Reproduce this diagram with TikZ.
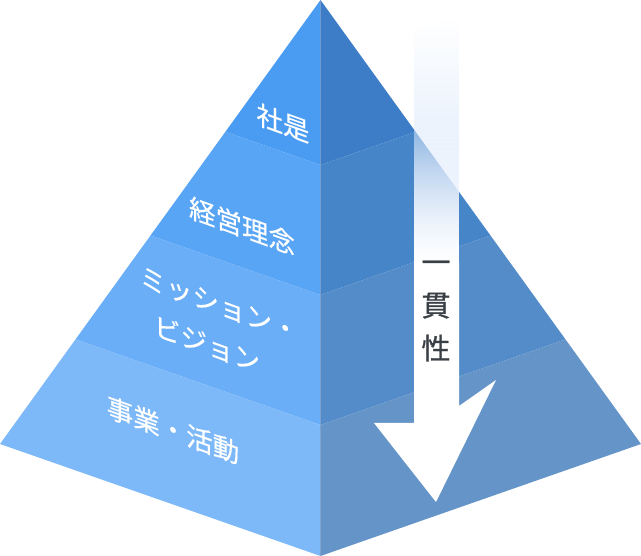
\documentclass[tikz,border=0pt]{standalone}
\usepackage{fontspec}
\newfontfamily\jp[FakeBold=0.5]{Noto Sans CJK JP}
\newfontfamily\jpv[FakeBold=0.9]{Noto Sans CJK JP}
\usetikzlibrary{fadings}
\definecolor{lbA}{HTML}{4A9BF2}
\definecolor{lbB}{HTML}{58A4F5}
\definecolor{lbC}{HTML}{69AEF7}
\definecolor{lbD}{HTML}{7DB9F8}
\definecolor{rbA}{HTML}{3D7DC7}
\definecolor{rbB}{HTML}{4785C9}
\definecolor{rbC}{HTML}{548CC9}
\definecolor{rbD}{HTML}{6494C8}
\definecolor{tint}{HTML}{D2E3FA}
\definecolor{txtgray}{HTML}{3A3F46}
\definecolor{ridge}{HTML}{7294C2}
\tikzfading[name=upfade, top color=transparent!100, bottom color=transparent!0]
\tikzset{
  facelabel/.style={font=\jp\fontsize{26.5}{32}\selectfont, text=white, inner sep=0pt, yslant=-0.36},
  arrowlabel/.style={font=\jpv\fontsize{29}{43}\selectfont, text=txtgray, align=center, inner sep=0pt}
}
\begin{document}
\begin{tikzpicture}[x=1pt,y=-1pt]
\useasboundingbox (0,0) rectangle (641,556);
% corners
\coordinate (A) at (320.5,0);
\coordinate (L) at (0,444);
\coordinate (R) at (641,444);
\coordinate (B) at (320.5,556);
% band boundaries
\coordinate (L1) at (225.4,131.8);
\coordinate (L2) at (150.5,235.5);
\coordinate (L3) at (75.5,339.4);
\coordinate (R1) at (415.6,131.8);
\coordinate (R2) at (490.5,235.5);
\coordinate (R3) at (565.5,339.4);
\coordinate (C1) at (320.5,165);
\coordinate (C2) at (320.5,295);
\coordinate (C3) at (320.5,425);
% left face
\fill[lbA] (A) -- (L1) -- (C1) -- cycle;
\fill[lbB] (L1) -- (L2) -- (C2) -- (C1) -- cycle;
\fill[lbC] (L2) -- (L3) -- (C3) -- (C2) -- cycle;
\fill[lbD] (L3) -- (L) -- (B) -- (C3) -- cycle;
% right face
\fill[rbA] (A) -- (R1) -- (C1) -- cycle;
\fill[rbB] (R1) -- (R2) -- (C2) -- (C1) -- cycle;
\fill[rbC] (R2) -- (R3) -- (C3) -- (C2) -- cycle;
\fill[rbD] (R3) -- (R) -- (B) -- (C3) -- cycle;
\draw[ridge, line width=0.6pt, opacity=0.6] (A) -- (B);
% arrow
\coordinate (S1) at (414,31.7);
\coordinate (S2) at (459,16);
\coordinate (S3) at (459,406);
\coordinate (H1) at (496,380);
\coordinate (T) at (436,502);
\coordinate (H2) at (374,423);
\coordinate (S4) at (414,423);
\coordinate (M1) at (414,262);
\coordinate (M2) at (459,262);
\begin{scope}
  \clip (S1) -- (S2) -- (M2) -- (M1) -- cycle;
  \fill[tint, path fading=upfade] (414,16) rectangle (459,262);
  \fill[white, path fading=upfade] (414,120) rectangle (459,262);
\end{scope}
\fill[white] (414,261.5) -- (459,261.5) -- (S3) -- (H1) -- (T) -- (H2) -- (S4) -- cycle;
% labels
\node[facelabel] (shaze) at (283,123) {社是};
\node[facelabel] (rinen) at (242,226) {経営理念};
\node[facelabel] (mission) at (219,305) {ミッション・};
\node[facelabel] (vision) at (207,344) {ビジョン};
\node[facelabel] (jigyo) at (173,430) {事業・活動};
\node[arrowlabel] (ikkan) at (436,311) {一\\貫\\性};
\end{tikzpicture}
\end{document}
